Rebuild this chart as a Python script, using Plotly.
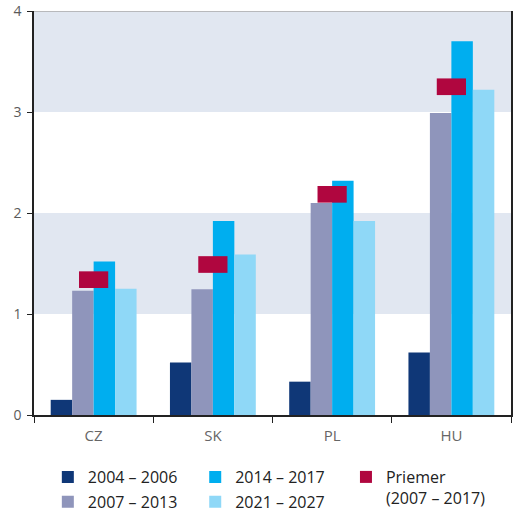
import plotly.graph_objects as go

categories = ["CZ", "SK", "PL", "HU"]
s2004 = [0.15, 0.52, 0.33, 0.62]
s2007 = [1.23, 1.245, 2.10, 2.99]
s2014 = [1.52, 1.92, 2.32, 3.70]
s2021 = [1.25, 1.59, 1.92, 3.22]
priemer = [1.34, 1.49, 2.185, 3.25]
series_names = ["2004 – 2006", "2007 – 2013", "2014 – 2017", "2021 – 2027"]
priemer_name = "Priemer<br>(2007 – 2017)"
yticks = [0, 1, 2, 3, 4]

colors = ["#0F3777", "#8F95BB", "#00AEEF", "#8FD8F7"]
priemer_color = "#B0063F"
band = "#E1E7F1"
mark_h = 0.165

fig = go.Figure()
legends = ["legend", "legend", "legend2", "legend2"]
for i, (name, vals, col, lg) in enumerate(zip(series_names, [s2004, s2007, s2014, s2021], colors, legends)):
    fig.add_trace(go.Bar(x=categories, y=vals, name=name, marker_color=col,
                         marker_line_width=0, legend=lg, legendgroup=f"g{i}"))

fig.add_trace(go.Bar(x=categories, y=[mark_h] * len(priemer),
                     base=[p - mark_h / 2 for p in priemer],
                     name=priemer_name, marker_color=priemer_color, marker_line_width=0,
                     width=0.245, xaxis="x2", legend="legend3", legendgroup="gp"))

shapes = []
for lo, hi in [(1, 2), (3, 4)]:
    shapes.append(dict(type="rect", xref="paper", yref="y", x0=0, x1=1, y0=lo, y1=hi,
                       fillcolor=band, line_width=0, layer="below"))
shapes.append(dict(type="line", xref="paper", yref="y", x0=0, x1=1, y0=4, y1=4,
                   line=dict(color="#AAAAAA", width=1.5)))

font_fam = "Open Sans"
legend_common = dict(orientation="v", font=dict(size=16, color="#222222", family=font_fam),
                     bgcolor="rgba(0,0,0,0)", yref="paper", yanchor="top", xanchor="left",
                     valign="top", tracegroupgap=1, itemwidth=30)

fig.update_layout(
    width=513, height=514,
    margin=dict(l=34, r=2, t=11, b=99, autoexpand=False),
    paper_bgcolor="white", plot_bgcolor="white",
    barmode="group", bargap=0.28, bargroupgap=0,
    font=dict(family=font_fam, color="#5A5A5A", size=14),
    shapes=shapes,
    xaxis=dict(type="category", range=[-0.5, 3.5], showline=True, linecolor="#222222",
               linewidth=1.5, ticks="outside", tickson="boundaries", ticklen=6,
               tickcolor="#222222", tickfont=dict(size=15, color="#666666"), showgrid=False,
               ticklabelstandoff=6),
    xaxis2=dict(type="category", range=[-0.5, 3.5], overlaying="x", visible=False),
    yaxis=dict(range=[0, 4], tickvals=yticks, showline=True, linecolor="#222222", linewidth=1.5,
               mirror=True, ticks="outside", ticklen=5, tickcolor="#222222",
               tickfont=dict(size=14, color="#5A5A5A"), showgrid=False, zeroline=False,
               ticklabelstandoff=3),
    legend=dict(x=0.029, y=-0.1114, **legend_common),
    legend2=dict(x=0.338, y=-0.1114, **legend_common),
    legend3=dict(x=0.654, y=-0.1114, **legend_common),
    showlegend=True,
)

fig.write_html("out.html", config={"displayModeBar": False},
               post_script="document.body.style.margin='0';document.body.style.overflow='hidden';")
